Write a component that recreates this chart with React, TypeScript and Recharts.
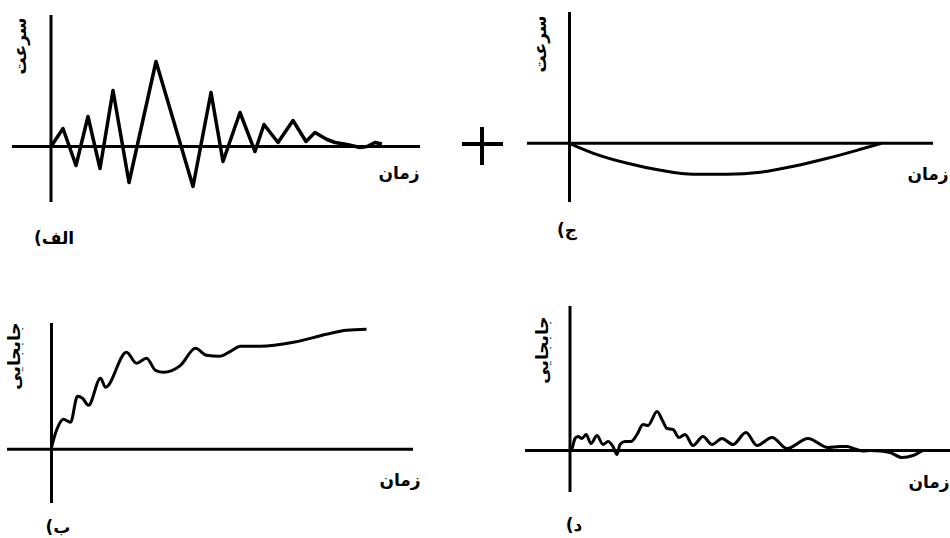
import { LineChart, Line, XAxis, YAxis, ReferenceLine } from 'recharts'

// (الف) speed, zigzag
const timeA = [0, 1.2, 2.5, 3.7, 4.9, 6.2, 7.8, 10.5, 14.2, 16.0, 17.2, 18.9, 20.4, 21.3, 22.7, 24.2, 25.5, 26.4, 27.6, 28.4, 29.6, 30.9, 31.6, 32.4, 33.1]
const speedA = [0, 1.8, -1.9, 3.0, -2.2, 5.6, -3.6, 8.5, -4.0, 5.4, -1.5, 3.4, -0.5, 2.2, 0.4, 2.6, 0.5, 1.4, 0.7, 0.4, 0.2, -0.1, 0, 0.4, 0.25]

// (ج) speed, shallow dip
const timeC = [0, 2.4, 5.8, 9.1, 12.4, 15.8, 19.1, 22.4, 25.8, 29.1, 31.2]
const speedC = [0, -1.0, -2.0, -2.7, -3.1, -3.1, -2.9, -2.3, -1.5, -0.6, 0]

// (ب) displacement
const timeB = [0, 0.5, 1.2, 1.9, 2.6, 3.1, 3.7, 4.9, 5.4, 7.5, 8.5, 9.5, 10.4, 11.2, 12.9, 14.4, 15.5, 16.8, 17.9, 18.9, 20.9, 24.2, 27.5, 29.5, 31.5]
const dispB = [0.2, 1.9, 3.0, 2.7, 5.3, 5.1, 4.4, 7.1, 6.2, 9.7, 8.6, 9.1, 7.9, 7.7, 8.4, 10.1, 9.4, 9.3, 9.8, 10.3, 10.3, 10.7, 11.5, 11.9, 12.0]

// (د) displacement
const timeD = [0, 0.2, 0.5, 0.8, 1.2, 1.6, 2.1, 2.7, 3.3, 3.8, 4.3, 4.7, 5.0, 5.5, 6.1, 6.7, 7.3, 7.8, 8.7, 9.3, 9.7, 10.3, 10.9, 11.5, 12.3, 13.3, 14.2, 15.2, 16.3, 17.6, 18.7, 20.2, 21.7, 23.8, 25.8, 27.0, 27.7, 28.5, 29.3, 30.0, 31.0, 32.0, 33.2, 34.3, 35.2]
const dispD = [0, 0.2, 1.2, 1.4, 1.2, 1.6, 0.7, 1.5, 0.6, 0.9, 0.4, -0.4, 0.6, 0.9, 0.9, 1.6, 2.6, 2.5, 3.9, 2.9, 2.2, 2.1, 1.3, 1.6, 0.5, 1.4, 0.6, 1.2, 0.6, 1.8, 0.5, 1.3, 0.2, 1.2, 0.3, 0.4, 0.4, 0.15, -0.05, 0, -0.05, -0.2, -0.7, -0.5, -0.05]

const SPEED = 'سرعت'
const DISP = 'جابجایی'
const TIME = 'زمان'

const font = '"DejaVu Sans", sans-serif'

function toRows(t: number[], v: number[]) {
  return t.map((x, i) => ({ t: x, v: v[i] }))
}

interface PanelProps {
  left: number
  top: number
  width: number
  height: number
  tDomain: [number, number]
  vDomain: [number, number]
  data: { t: number; v: number }[]
  curve: 'linear' | 'monotone'
  strokeWidth?: number
}

function Panel({ left, top, width, height, tDomain, vDomain, data, curve, strokeWidth = 3 }: PanelProps) {
  return (
    <div style={{ position: 'absolute', left, top }}>
      <LineChart width={width} height={height} data={data} margin={{ top: 0, right: 0, bottom: 0, left: 0 }}>
        <XAxis type="number" dataKey="t" domain={tDomain} hide allowDataOverflow />
        <YAxis type="number" domain={vDomain} hide allowDataOverflow />
        <ReferenceLine y={0} stroke="#000" strokeWidth={3} />
        <ReferenceLine x={0} stroke="#000" strokeWidth={3} />
        <Line
          type={curve}
          dataKey="v"
          stroke="#000"
          strokeWidth={strokeWidth}
          strokeLinejoin="round"
          dot={false}
          isAnimationActive={false}
        />
      </LineChart>
    </div>
  )
}

const textStyle = {
  fontFamily: font,
  fontWeight: 'bold' as const,
  fontSize: 17,
  color: '#000',
  lineHeight: 1,
}

function Label({ x, y, text, rotate }: { x: number; y: number; text: string; rotate?: boolean }) {
  return (
    <div
      style={{
        ...textStyle,
        position: 'absolute',
        left: x,
        top: y,
        transform: `translate(-50%, -50%)${rotate ? ' rotate(-90deg)' : ''}`,
        whiteSpace: 'nowrap',
      }}
    >
      {text}
    </div>
  )
}

// panel tag like "(الف": paren drawn on the left of the letter
function Tag({ x, y, text }: { x: number; y: number; text: string }) {
  return (
    <div
      style={{
        ...textStyle,
        position: 'absolute',
        left: x,
        top: y,
        transform: 'translate(-50%, -50%)',
        display: 'flex',
        alignItems: 'center',
        whiteSpace: 'nowrap',
      }}
    >
      <span>(</span>
      <span>{text}</span>
    </div>
  )
}

export default function App() {
  return (
    <div style={{ position: 'absolute', left: 0, top: 0, width: 950, height: 538, background: '#fff', overflow: 'hidden' }}>
      <Panel left={12} top={15} width={408} height={187} tDomain={[-3.9, 36.9]} vDomain={[-5.55, 13.15]} data={toRows(timeA, speedA)} curve="linear" strokeWidth={3.5} />
      <Panel left={527} top={12} width={406} height={190} tDomain={[-4.25, 36.35]} vDomain={[-5.87, 13.13]} data={toRows(timeC, speedC)} curve="monotone" />
      <Panel left={7} top={323} width={406} height={180} tDomain={[-4.45, 36.15]} vDomain={[-5.37, 12.63]} data={toRows(timeB, dispB)} curve="monotone" />
      <Panel left={525} top={306} width={425} height={186} tDomain={[-4.5, 38]} vDomain={[-4.15, 14.45]} data={toRows(timeD, dispD)} curve="monotone" />

      {/* plus sign between the top panels */}
      <div style={{ position: 'absolute', left: 462, top: 142, width: 41, height: 4, background: '#000' }} />
      <div style={{ position: 'absolute', left: 480, top: 127, width: 4, height: 38, background: '#000' }} />

      <Label x={20} y={46} text={SPEED} rotate />
      <Label x={540} y={44} text={SPEED} rotate />
      <Label x={14} y={356} text={DISP} rotate />
      <Label x={542} y={350} text={DISP} rotate />

      <Label x={399} y={173} text={TIME} />
      <Label x={928} y={174} text={TIME} />
      <Label x={400} y={480} text={TIME} />
      <Label x={929} y={482} text={TIME} />

      <Tag x={54} y={238} text="الف" />
      <Tag x={567} y={230} text="ج" />
      <Tag x={58} y={527} text="ب" />
      <Tag x={574} y={525} text="د" />
    </div>
  )
}
